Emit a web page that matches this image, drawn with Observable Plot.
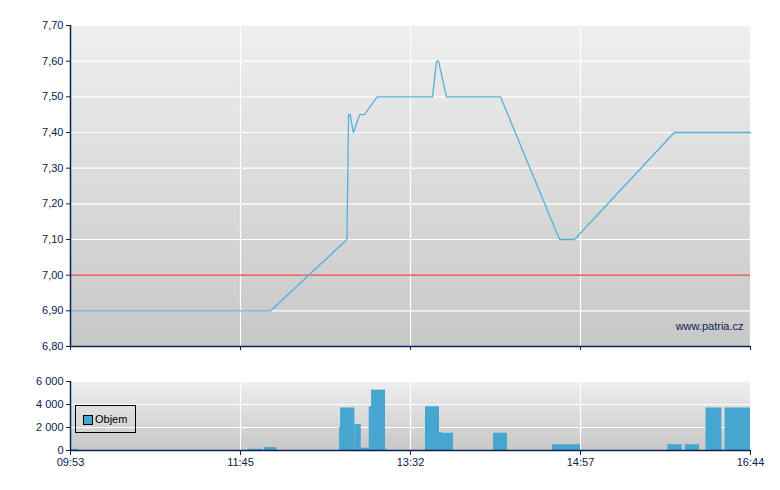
<!DOCTYPE html>
<html>
<head>
<meta charset="utf-8">
<script src="https://cdn.jsdelivr.net/npm/d3@7"></script>
<script src="https://cdn.jsdelivr.net/npm/@observablehq/plot@0.6"></script>
<style>
  body { margin: 0; background: #fff; }
  #wrap { position: relative; width: 780px; height: 490px; font-family: "Liberation Sans", Arial, sans-serif; }
  #top { position: absolute; left: 0; top: 0; }
  #bot { position: absolute; left: 0; top: 360px; }
  #legend { position: absolute; left: 75px; top: 405px; width: 61px; height: 28px; box-sizing: border-box;
            border: 1px solid #000; font-size: 11px; color: #000; }
  #legend .sw { position: absolute; left: 7px; top: 9px; width: 8px; height: 8px; background: #46a6cf; border: 1px solid #000; box-sizing: content-box; }
  #legend .lb { position: absolute; left: 19px; top: 7px; line-height: 13px; }
  svg { overflow: visible; }
</style>
</head>
<body>
<div id="wrap">
  <div id="top"></div>
  <div id="bot"></div>
  <div id="legend"><div class="sw"></div><div class="lb">Objem</div></div>
</div>
<script>
// ---- data ----
const tickTimes = ["09:53", "11:45", "13:32", "14:57", "16:44"];
const priceTicks = [6.8, 6.9, 7.0, 7.1, 7.2, 7.3, 7.4, 7.5, 7.6, 7.7];
const volTicks = [0, 2000, 4000, 6000];
const refPrice = 7.00;

const priceTimes = ["09:53", "12:04", "12:52", "12:53", "12:54", "12:56", "13:00", "13:03", "13:11",
                    "13:43", "13:45", "13:46", "13:50", "14:17", "14:46:30", "14:54", "15:56", "16:44"];
const priceValues = [6.90, 6.90, 7.10, 7.45, 7.45, 7.40, 7.45, 7.45, 7.50,
                     7.50, 7.60, 7.60, 7.50, 7.50, 7.10, 7.10, 7.40, 7.40];

const volStart = ["09:53", "11:50", "12:00", "12:47:20", "12:48", "12:57", "13:01", "13:06", "13:07:30", "13:16:15",
                  "13:39:30", "13:46:30", "13:48", "14:13:30", "14:43", "15:52", "16:03", "16:16", "16:28"];
const volEnd   = ["09:58", "11:59", "12:08", "12:48", "12:57", "13:01", "13:06", "13:07:30", "13:16:15", "13:17:30",
                  "13:46:30", "13:48", "13:53:30", "14:20:30", "14:57", "16:01", "16:12", "16:26", "16:44"];
const volValues = [100, 100, 250, 2000, 3700, 2250, 200, 3800, 5250, 100,
                   3800, 1550, 1500, 1500, 500, 500, 500, 3700, 3700];

// ---- helpers ----
const toMin = t => { const [h, m, s = 0] = t.split(":").map(Number); return h * 60 + m + s / 60; };
const tickMin = tickTimes.map(toMin);
// the source chart's time axis is piecewise: equal spacing between the labelled times
const tickIdx = tickTimes.map((_, i) => i);
const pos = d3.scaleLinear().domain(tickMin).range(tickIdx);
const priceData = priceTimes.map((t, i) => ({t: pos(toMin(t)), p: priceValues[i]}));
const volData = volStart.map((s, i) => ({s: pos(toMin(s)), e: pos(toMin(volEnd[i])), v: volValues[i]}));

const navy = "#0b2150";
const W = 780, ML = 70, MR = 30;
const xScale = {domain: [tickIdx[0], tickIdx[tickIdx.length - 1]]};
const style = {fontFamily: '"Liberation Sans", Arial, sans-serif', fontSize: "11px", color: navy, background: "transparent", overflow: "visible"};

function addGrad(svg, id) {
  const defs = d3.select(svg).insert("defs", ":first-child");
  const g = defs.append("linearGradient").attr("id", id).attr("x1", 0).attr("y1", 0).attr("x2", 0).attr("y2", 1);
  g.append("stop").attr("offset", "0%").attr("stop-color", "#efefef");
  g.append("stop").attr("offset", "100%").attr("stop-color", "#c7c7c7");
}

const topPlot = Plot.plot({
  width: W, height: 360,
  marginLeft: ML, marginRight: MR, marginTop: 25, marginBottom: 14,
  style,
  x: xScale,
  y: {domain: [priceTicks[0], priceTicks[priceTicks.length - 1]]},
  marks: [
    Plot.frame({fill: "url(#gTop)", stroke: "none"}),
    Plot.gridY(priceTicks, {stroke: "#fff", strokeOpacity: 1, strokeWidth: 1.2}),
    Plot.gridX(tickIdx.slice(1), {stroke: "#fff", strokeOpacity: 1, strokeWidth: 1.2}),
    Plot.ruleY([refPrice], {stroke: "#e23a36", strokeWidth: 1.2}),
    Plot.line(priceData, {x: "t", y: "p", stroke: "#55b0da", strokeWidth: 1.3}),
    Plot.axisY(priceTicks, {tickSize: 4, tickPadding: 3, label: null, stroke: navy,
      tickFormat: d => d.toFixed(2).replace(".", ",")}),
    Plot.axisX(tickIdx, {tickSize: 4, label: null, stroke: navy, tickFormat: () => ""}),
    Plot.ruleX([tickIdx[0]], {stroke: navy, strokeWidth: 1.5}),
    Plot.ruleY([priceTicks[0]], {stroke: navy, strokeWidth: 1.5}),
    Plot.text(["www.patria.cz"], {frameAnchor: "bottom-right", dx: -7, dy: -17, fill: navy, fontSize: 11})
  ]
});
addGrad(topPlot, "gTop");
document.getElementById("top").append(topPlot);

const fmtVol = d => d3.format(",")(d).replace(/,/g, " ");
const botPlot = Plot.plot({
  width: W, height: 130,
  marginLeft: ML, marginRight: MR, marginTop: 21, marginBottom: 40,
  style,
  x: xScale,
  y: {domain: [volTicks[0], volTicks[volTicks.length - 1]]},
  marks: [
    Plot.frame({fill: "url(#gBot)", stroke: "none"}),
    Plot.gridY(volTicks, {stroke: "#fff", strokeOpacity: 1, strokeWidth: 1.2}),
    Plot.gridX(tickIdx.slice(1), {stroke: "#fff", strokeOpacity: 1, strokeWidth: 1.2}),
    Plot.rectY(volData, {x1: "s", x2: "e", y: "v", fill: "#46a6cf"}),
    Plot.axisY(volTicks, {tickSize: 4, tickPadding: 3, label: null, stroke: navy, tickFormat: fmtVol}),
    Plot.axisX(tickIdx, {tickSize: 5, tickPadding: 3, label: null, stroke: navy, tickFormat: i => tickTimes[i]}),
    Plot.ruleX([tickIdx[0]], {stroke: navy, strokeWidth: 1.5}),
    Plot.ruleY([volTicks[0]], {stroke: navy, strokeWidth: 1.5})
  ]
});
addGrad(botPlot, "gBot");
document.getElementById("bot").append(botPlot);
</script>
</body>
</html>
